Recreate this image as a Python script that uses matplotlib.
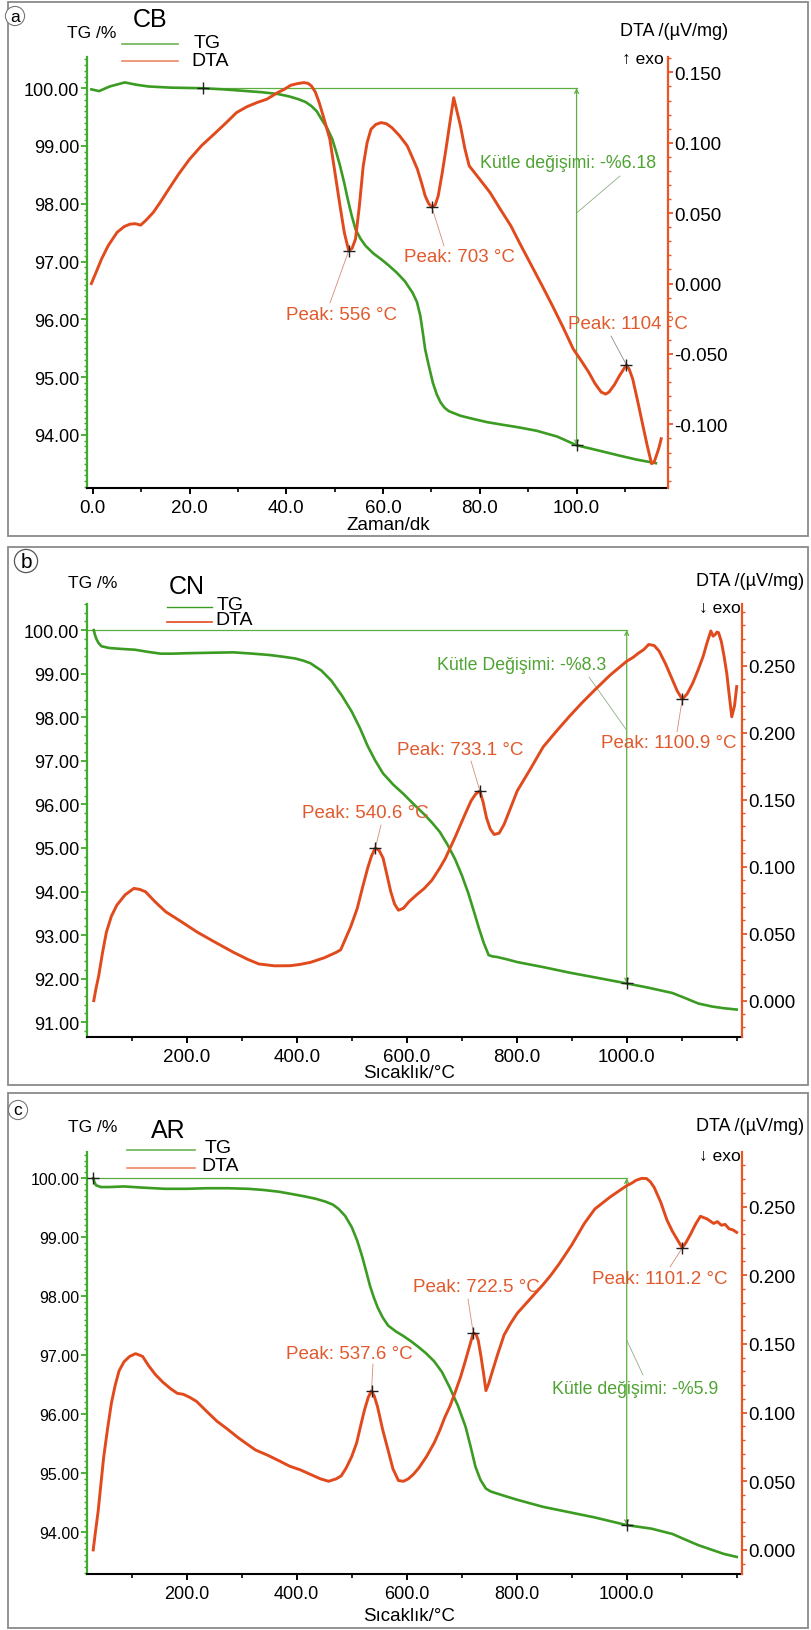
import matplotlib
matplotlib.use('Agg')
import matplotlib.pyplot as plt
from matplotlib.ticker import MultipleLocator, FormatStrFormatter, FixedLocator
from matplotlib.lines import Line2D
from matplotlib.patches import Rectangle

plt.rcParams['font.family'] = ['Liberation Sans', 'DejaVu Sans']
plt.rcParams['axes.unicode_minus'] = False

# ---------------- data: panel a (CB) ----------------
a_tg_t = [-0.3, 1.3, 3.5, 6.6, 9.0, 11.5, 16.0, 22.4, 27.0, 31.8, 35.0, 38.2, 40.5, 42.5, 44.0, 45.2, 46.3,
          47.3, 48.5, 49.5, 50.3, 51.1, 52.0, 52.7, 53.5, 54.3, 55.3, 56.4, 58.0, 59.6, 61.2, 62.8, 64.5,
          66.1, 67.0, 67.7, 68.2, 68.7, 69.5, 70.3, 71.1, 71.9, 72.7, 73.6, 76.0, 78.9, 81.5, 84.3, 88.0,
          91.8, 96.0, 100.0, 104.5, 108.9, 112.5, 116.4]
a_tg_v = [99.98, 99.95, 100.03, 100.10, 100.06, 100.03, 100.01, 100.00, 99.98, 99.95, 99.93, 99.90, 99.86,
          99.81, 99.76, 99.69, 99.60, 99.46, 99.30, 99.12, 98.90, 98.66, 98.35, 98.08, 97.80, 97.56, 97.40,
          97.27, 97.14, 97.04, 96.93, 96.81, 96.66, 96.46, 96.30, 96.06, 95.78, 95.48, 95.18, 94.90, 94.70,
          94.56, 94.47, 94.41, 94.33, 94.27, 94.22, 94.18, 94.13, 94.07, 93.97, 93.82, 93.73, 93.64, 93.57,
          93.51]
a_dta_t = [-0.3, 0.8, 1.8, 3.2, 5.0, 6.5, 7.7, 8.8, 9.9, 11.0, 12.5, 14.0, 15.7, 17.8, 20.0, 22.5, 25.4,
           27.5, 29.7, 31.8, 33.9, 36.0, 38.2, 39.6, 40.9, 42.3, 43.6, 44.5, 45.2, 46.0, 46.8, 47.8, 49.0,
           50.0, 51.1, 52.0, 52.9, 53.6, 54.3, 55.1, 55.9, 56.7, 57.5, 58.5, 59.6, 60.7, 61.8, 63.4, 65.0,
           66.0, 67.1, 68.0, 68.7, 69.4, 70.1, 70.8, 71.4, 72.2, 73.0, 73.8, 74.6, 75.3, 76.0, 76.9, 77.8,
           80.0, 82.1, 84.2, 86.4, 88.5, 90.7, 92.8, 95.0, 97.2, 99.3, 101.0, 102.5, 103.8, 105.1, 106.0,
           106.7, 107.8, 108.9, 109.7, 110.3, 110.9, 111.6, 112.6, 113.7, 114.6, 115.5, 116.0, 116.4, 117.0,
           117.5]
a_dta_v = [0.000, 0.009, 0.0174, 0.027, 0.0363, 0.0405, 0.0422, 0.0425, 0.0415, 0.045, 0.0505, 0.058,
           0.0671, 0.078, 0.0883, 0.098, 0.1072, 0.114, 0.1214, 0.1255, 0.1285, 0.131, 0.1356, 0.138, 0.1408,
           0.1420, 0.1427, 0.1422, 0.1403, 0.136, 0.1285, 0.117, 0.1025, 0.080, 0.0552, 0.036, 0.0233, 0.025,
           0.0316, 0.055, 0.0836, 0.100, 0.1096, 0.1130, 0.1143, 0.1135, 0.1108, 0.1050, 0.0978, 0.090,
           0.0812, 0.071, 0.0623, 0.057, 0.0541, 0.056, 0.0623, 0.078, 0.0954, 0.114, 0.1320, 0.122, 0.1120,
           0.096, 0.0836, 0.074, 0.0647, 0.053, 0.0411, 0.027, 0.0127, -0.001, -0.0157, -0.031, -0.0464,
           -0.055, -0.0629, -0.071, -0.0771, -0.0785, -0.0771, -0.072, -0.0653, -0.061, -0.0577, -0.061,
           -0.0677, -0.083, -0.1007, -0.115, -0.1279, -0.127, -0.1232, -0.117, -0.1102]
a_peak_t = [52.9, 70.1, 110.3]
a_peak_v = [0.0233, 0.0541, -0.0577]
a_peak_txt = ['Peak: 556 °C', 'Peak: 703 °C', 'Peak: 1104 °C']
a_mass_t = [22.7, 100.0]
a_mass_v = [100.00, 93.82]
a_mass_txt = 'Kütle değişimi: -%6.18'

# ---------------- data: panel b (CN) ----------------
b_tg_t = [31, 33, 36, 40, 45, 52, 59, 80, 106, 130, 153, 175, 200, 240, 285, 320, 350, 375, 397, 412, 425,
          445, 463, 482, 500, 515, 529, 543, 557, 575, 594, 613, 632, 646, 660, 674, 688, 700, 712, 722, 731,
          740, 749, 756, 763, 780, 801, 850, 895, 950, 1000, 1040, 1083, 1105, 1130, 1155, 1177, 1200]
b_tg_v = [100.00, 99.90, 99.79, 99.70, 99.63, 99.61, 99.59, 99.57, 99.55, 99.50, 99.46, 99.46, 99.47, 99.48,
          99.49, 99.46, 99.43, 99.39, 99.35, 99.30, 99.24, 99.07, 98.84, 98.50, 98.13, 97.75, 97.34, 97.00,
          96.71, 96.46, 96.24, 96.00, 95.77, 95.58, 95.37, 95.08, 94.74, 94.38, 93.96, 93.55, 93.17, 92.82,
          92.54, 92.51, 92.50, 92.45, 92.38, 92.26, 92.14, 92.01, 91.89, 91.79, 91.67, 91.56, 91.43, 91.36,
          91.32, 91.29]
b_dta_t = [31, 35, 40, 47, 54, 63, 73, 88, 104, 115, 125, 142, 162, 190, 219, 250, 285, 310, 331, 360, 388,
           405, 425, 450, 472, 480, 486, 498, 510, 520, 529, 536, 543, 550, 557, 564, 571, 578, 585, 594,
           604, 618, 632, 646, 660, 670, 679, 688, 698, 707, 717, 725, 733, 739, 745, 752, 759, 768, 777, 789,
           801, 825, 848, 872, 895, 918, 942, 970, 1000, 1011, 1022, 1031, 1040, 1050, 1059, 1071, 1083, 1092,
           1101, 1110, 1120, 1130, 1139, 1146, 1153, 1157, 1161, 1164, 1167, 1172, 1177, 1182, 1186, 1191,
           1196, 1200]
b_dta_v = [0.000, 0.009, 0.0186, 0.036, 0.0512, 0.063, 0.0713, 0.079, 0.0838, 0.083, 0.0813, 0.074, 0.0663,
           0.059, 0.0512, 0.044, 0.0361, 0.031, 0.0274, 0.026, 0.0261, 0.027, 0.0286, 0.032, 0.0361, 0.038,
           0.0437, 0.055, 0.0688, 0.085, 0.0989, 0.108, 0.1140, 0.112, 0.1064, 0.094, 0.0813, 0.072, 0.0675,
           0.069, 0.0738, 0.079, 0.0838, 0.090, 0.0989, 0.106, 0.1140, 0.122, 0.1315, 0.140, 0.1491, 0.154,
           0.1566, 0.148, 0.1365, 0.128, 0.1240, 0.125, 0.1315, 0.144, 0.1566, 0.173, 0.1893, 0.201, 0.2118,
           0.222, 0.2319, 0.243, 0.2533, 0.256, 0.2595, 0.262, 0.2658, 0.265, 0.2608, 0.251, 0.2395, 0.231,
           0.2249, 0.229, 0.2369, 0.247, 0.2570, 0.267, 0.2759, 0.272, 0.2733, 0.275, 0.2746, 0.268, 0.2570,
           0.244, 0.2294, 0.2118, 0.220, 0.2344]
b_peak_t = [543, 733, 1101]
b_peak_v = [0.1140, 0.1566, 0.2249]
b_peak_txt = ['Peak: 540.6 °C', 'Peak: 733.1 °C', 'Peak: 1100.9 °C']
b_mass_t = [18.7, 1000.0]
b_mass_v = [100.00, 91.89]
b_mass_txt = 'Kütle Değişimi: -%8.3'

# ---------------- data: panel c (AR) ----------------
c_tg_t = [30, 32, 35, 44, 60, 86, 120, 161, 200, 237, 275, 312, 340, 368, 392, 415, 435, 453, 466, 476, 488,
          500, 510, 519, 526, 533, 540, 547, 556, 566, 580, 594, 608, 622, 636, 650, 664, 678, 693, 707, 716,
          725, 734, 744, 753, 763, 780, 801, 848, 895, 942, 1000, 1045, 1083, 1105, 1130, 1155, 1177, 1200]
c_tg_v = [100.00, 99.94, 99.88, 99.85, 99.85, 99.86, 99.84, 99.82, 99.82, 99.83, 99.83, 99.82, 99.80, 99.77,
          99.73, 99.69, 99.65, 99.60, 99.55, 99.48, 99.36, 99.17, 98.94, 98.67, 98.43, 98.18, 97.98, 97.81,
          97.64, 97.50, 97.40, 97.32, 97.23, 97.13, 97.02, 96.89, 96.71, 96.45, 96.14, 95.78, 95.45, 95.10,
          94.88, 94.73, 94.68, 94.65, 94.60, 94.54, 94.42, 94.33, 94.24, 94.11, 94.05, 93.96, 93.87, 93.77,
          93.69, 93.62, 93.57]
c_dta_t = [30, 34, 39, 44, 49, 56, 63, 70, 77, 86, 96, 102, 107, 113, 120, 131, 143, 157, 171, 183, 194, 206,
           218, 236, 255, 274, 293, 310, 325, 347, 368, 387, 406, 425, 443, 458, 472, 481, 490, 500, 509, 516,
           523, 530, 536, 541, 547, 556, 566, 575, 585, 594, 603, 612, 622, 636, 650, 660, 669, 679, 688, 698,
           707, 714, 721, 726, 730, 735, 740, 744, 749, 754, 765, 777, 789, 801, 825, 848, 862, 876, 900, 923,
           942, 970, 1000, 1009, 1017, 1027, 1036, 1043, 1050, 1062, 1073, 1083, 1092, 1101, 1108, 1116,
           1125, 1134, 1146, 1158, 1165, 1172, 1179, 1186, 1193, 1200]
c_dta_v = [0.000, 0.013, 0.0283, 0.048, 0.0675, 0.088, 0.1068, 0.120, 0.1304, 0.137, 0.1408, 0.142, 0.1429,
           0.142, 0.1408, 0.134, 0.1277, 0.122, 0.1173, 0.114, 0.1133, 0.111, 0.1081, 0.101, 0.0937, 0.088,
           0.0819, 0.077, 0.0728, 0.069, 0.0649, 0.061, 0.0584, 0.055, 0.0518, 0.050, 0.0518, 0.054, 0.0597,
           0.068, 0.0780, 0.090, 0.1016, 0.111, 0.1160, 0.112, 0.1042, 0.088, 0.0728, 0.059, 0.0505, 0.050,
           0.0518, 0.055, 0.0597, 0.068, 0.0780, 0.087, 0.0963, 0.105, 0.1147, 0.126, 0.1382, 0.148, 0.1579,
           0.157, 0.1526, 0.141, 0.1277, 0.1160, 0.121, 0.1277, 0.142, 0.1565, 0.165, 0.1723, 0.183, 0.1932,
           0.200, 0.2076, 0.222, 0.2377, 0.2482, 0.257, 0.2652, 0.267, 0.2691, 0.2705, 0.2704, 0.268, 0.2639,
           0.253, 0.2403, 0.232, 0.2259, 0.2199, 0.224, 0.2298, 0.237, 0.2429, 0.241, 0.2377, 0.239, 0.2364,
           0.237, 0.2338, 0.233, 0.2312]
c_peak_t = [536, 721, 1101]
c_peak_v = [0.1160, 0.1579, 0.2199]
c_peak_txt = ['Peak: 537.6 °C', 'Peak: 722.5 °C', 'Peak: 1101.2 °C']
c_mass_t = [30.0, 1000.0]
c_mass_v = [100.00, 94.11]
c_mass_txt = 'Kütle değişimi: -%5.9'

# ---------------- styling ----------------
W, H = 811, 1631
TG_C = '#3b9b22'
SPG = '#3fac2b'
DTA_C = '#e14a1c'
SPR = '#ea5525'
ANN_G = '#5cae40'
PEAK_C = '#e05a2e'
MASS_C = '#4ea332'

fig = plt.figure(figsize=(W / 100, H / 100), dpi=100)


def fpx(x, y):
    return x / W, 1 - y / H


def box(x0, y0, x1, y1):
    fig.add_artist(Rectangle((x0 / W, 1 - y1 / H), (x1 - x0) / W, (y1 - y0) / H,
                             transform=fig.transFigure, fill=False, ec='#8a8a8a', lw=1.3))


def ftext(x, y, s, **kw):
    kw.setdefault('ha', 'center')
    kw.setdefault('va', 'center')
    fig.text(x / W, 1 - y / H, s, **kw)


def fline(x0, x1, y, color, lw=1.2):
    fig.add_artist(Line2D([x0 / W, x1 / W], [1 - y / H, 1 - y / H], transform=fig.transFigure,
                          color=color, lw=lw))


def panel(rect, xlim, ylt, yld, tg_t, tg_v, dta_t, dta_v, tg_ticks, dta_ticks, x_ticks, x_minor,
          tg_minor, left_fs, x_fs, peak_t, peak_v, mass_t, mass_v, mass_start_marker):
    l, r, t, b = rect
    ax = fig.add_axes([l / W, 1 - b / H, (r - l) / W, (b - t) / H])
    ax2 = ax.twinx()
    ax.set_xlim(*xlim)
    ax.set_ylim(*ylt)
    ax2.set_ylim(*yld)
    ax.plot(tg_t, tg_v, color=TG_C, lw=1.9, zorder=3)
    ax2.plot(dta_t, dta_v, color=DTA_C, lw=2.1, zorder=3)
    for s in ['top', 'right']:
        ax.spines[s].set_visible(False)
    for s in ['top', 'left', 'bottom']:
        ax2.spines[s].set_visible(False)
    ax.spines['left'].set_color(SPG)
    ax.spines['left'].set_linewidth(1.6)
    ax.spines['bottom'].set_color('black')
    ax.spines['bottom'].set_linewidth(1.5)
    ax2.spines['right'].set_color(SPR)
    ax2.spines['right'].set_linewidth(1.6)
    ax.set_yticks(tg_ticks)
    ax.yaxis.set_major_formatter(FormatStrFormatter('%.2f'))
    ax.yaxis.set_minor_locator(MultipleLocator(tg_minor))
    ax2.set_yticks(dta_ticks)
    ax2.yaxis.set_major_formatter(FormatStrFormatter('%.3f'))
    ax2.yaxis.set_minor_locator(MultipleLocator(0.01))
    ax.set_xticks(x_ticks)
    ax.xaxis.set_major_formatter(FormatStrFormatter('%.1f'))
    ax.xaxis.set_minor_locator(MultipleLocator(x_minor))
    ax.tick_params(axis='y', which='major', colors=SPG, labelcolor='black', length=4, width=1.3,
                   labelsize=left_fs, pad=1.5)
    ax.tick_params(axis='y', which='minor', colors=SPG, length=2.2, width=1.0)
    ax2.tick_params(axis='y', which='major', colors=SPR, labelcolor='black', length=3.5, width=1.3,
                    labelsize=13.5, pad=1)
    ax2.tick_params(axis='y', which='minor', colors=SPR, length=2.2, width=1.0)
    ax.tick_params(axis='x', which='major', colors='black', length=4, width=1.4, labelsize=x_fs, pad=4)
    ax.tick_params(axis='x', which='minor', colors='black', length=3, width=1.2)
    # mass change construction
    ax.plot([mass_t[0], mass_t[1]], [mass_v[0], mass_v[0]], color=ANN_G, lw=0.9, zorder=2)
    ax.annotate('', xy=(mass_t[1], mass_v[0]), xytext=(mass_t[1], mass_v[1]),
                arrowprops=dict(arrowstyle='<->', color=ANN_G, lw=0.9, shrinkA=0, shrinkB=0,
                                mutation_scale=7), zorder=2)
    ax.plot([mass_t[1]], [mass_v[1]], marker='+', color='#202020', ms=8, mew=1.0, zorder=5)
    if mass_start_marker:
        ax.plot([mass_t[0]], [mass_v[0]], marker='+', color='#202020', ms=8, mew=1.0, zorder=5)
    ax2.plot(peak_t, peak_v, ls='none', marker='+', color='#202020', ms=8, mew=1.0, zorder=5)
    return ax, ax2


def leader(ax, xy, px, py, color):
    ax.annotate('', xy=xy, xycoords='data', xytext=(px, H - py), textcoords='figure pixels',
                arrowprops=dict(arrowstyle='-', color=color, lw=0.6, shrinkA=0, shrinkB=0))


# ---------------- panel a ----------------
box(8, 3, 808, 537)
axa, axa2 = panel((87, 668, 58, 489), (-1.2, 118.9), (93.08, 100.54), (-0.1452, 0.1609),
                  a_tg_t, a_tg_v, a_dta_t, a_dta_v, [94, 95, 96, 97, 98, 99, 100],
                  [-0.10, -0.05, 0.0, 0.05, 0.10, 0.15], [0, 20, 40, 60, 80, 100], 10, 0.1, 13, 13.5,
                  a_peak_t, a_peak_v, a_mass_t, a_mass_v, True)
ftext(15, 17, 'a', fontsize=12.5, bbox=dict(boxstyle='circle,pad=0.12', fc='white', ec='#777777', lw=0.8))
ftext(92, 33, 'TG /%', fontsize=12.5)
ftext(150, 20, 'CB', fontsize=18)
ftext(674, 32, 'DTA /(µV/mg)', fontsize=13)
ftext(664, 59, '↑ exo', fontsize=12.5, ha='right')
fline(122, 178, 45, '#6cb454')
fline(122, 178, 62, '#ee8a66')
ftext(207, 43, 'TG', fontsize=14)
ftext(210, 62, 'DTA', fontsize=14)
ftext(568, 163, a_mass_txt, fontsize=12.8, color=MASS_C)
leader(axa, (a_mass_t[1], 97.84), 620, 177, '#8fae84')
ftext(342, 315, a_peak_txt[0], fontsize=13.5, color=PEAK_C)
ftext(459, 257, a_peak_txt[1], fontsize=13.5, color=PEAK_C)
ftext(628, 325, a_peak_txt[2], fontsize=13.5, color=PEAK_C)
leader(axa2, (a_peak_t[0], a_peak_v[0]), 330, 304, '#d88a70')
leader(axa2, (a_peak_t[1], a_peak_v[1]), 444, 247, '#d88a70')
leader(axa2, (a_peak_t[2], a_peak_v[2]), 611, 337, '#8a8a8a')
ftext(388, 525, 'Zaman/dk', fontsize=13.5)

# ---------------- panel b ----------------
box(8, 548, 808, 1086)
axb, axb2 = panel((87, 742, 605, 1038), (18.7, 1209.6), (90.66, 100.60), (-0.0271, 0.296),
                  b_tg_t, b_tg_v, b_dta_t, b_dta_v, [91, 92, 93, 94, 95, 96, 97, 98, 99, 100],
                  [0.0, 0.05, 0.10, 0.15, 0.20, 0.25], [200, 400, 600, 800, 1000], 100, 0.2, 13, 13.5,
                  b_peak_t, b_peak_v, b_mass_t, b_mass_v, False)
ftext(26, 562, 'b', fontsize=15, bbox=dict(boxstyle='circle,pad=0.1', fc='white', ec='#555555', lw=0.9))
ftext(93, 583, 'TG /%', fontsize=12.5)
ftext(187, 587, 'CN', fontsize=18)
ftext(750, 582, 'DTA /(µV/mg)', fontsize=13)
ftext(741, 608, '↓ exo', fontsize=12.5, ha='right')
fline(167, 212, 608, TG_C, 1.0)
fline(167, 212, 623, DTA_C, 1.2)
ftext(230, 605, 'TG', fontsize=14)
ftext(234, 621, 'DTA', fontsize=14)
ftext(522, 666, b_mass_txt, fontsize=12.8, color=MASS_C)
leader(axb, (b_mass_t[1], 97.7), 589, 678, '#8fae84')
ftext(365, 814, b_peak_txt[0], fontsize=13.5, color=PEAK_C)
ftext(460, 751, b_peak_txt[1], fontsize=13.5, color=PEAK_C)
ftext(669, 743, b_peak_txt[2], fontsize=13.5, color=PEAK_C)
leader(axb2, (b_peak_t[0], b_peak_v[0]), 381, 826, '#d88a70')
leader(axb2, (b_peak_t[1], b_peak_v[1]), 471, 762, '#d88a70')
leader(axb2, (b_peak_t[2], b_peak_v[2]), 677, 733, '#d88a70')
ftext(409, 1073, 'Sıcaklık/°C', fontsize=13.5)

# ---------------- panel c ----------------
box(8, 1094, 808, 1629)
axc, axc2 = panel((87, 742, 1153, 1575), (18.7, 1209.6), (93.28, 100.445), (-0.0175, 0.2897),
                  c_tg_t, c_tg_v, c_dta_t, c_dta_v, [94, 95, 96, 97, 98, 99, 100],
                  [0.0, 0.05, 0.10, 0.15, 0.20, 0.25], [200, 400, 600, 800, 1000], 100, 0.1, 11.5, 13,
                  c_peak_t, c_peak_v, c_mass_t, c_mass_v, True)
ftext(18, 1111, 'c', fontsize=12.5, bbox=dict(boxstyle='circle,pad=0.12', fc='white', ec='#777777', lw=0.8))
ftext(93, 1128, 'TG /%', fontsize=12.5)
ftext(168, 1131, 'AR', fontsize=18)
ftext(750, 1127, 'DTA /(µV/mg)', fontsize=13)
ftext(741, 1156, '↓ exo', fontsize=12.5, ha='right')
fline(127, 195, 1151, '#6cb454')
fline(127, 195, 1169, '#ee8a66')
ftext(218, 1149, 'TG', fontsize=14)
ftext(220, 1167, 'DTA', fontsize=14)
ftext(635, 1390, c_mass_txt, fontsize=12.8, color=MASS_C)
leader(axc, (c_mass_t[1], 97.25), 643, 1376, '#8fae84')
ftext(349, 1355, c_peak_txt[0], fontsize=13.5, color=PEAK_C)
ftext(476, 1288, c_peak_txt[1], fontsize=13.5, color=PEAK_C)
ftext(660, 1280, c_peak_txt[2], fontsize=13.5, color=PEAK_C)
leader(axc2, (c_peak_t[0], c_peak_v[0]), 373, 1365, '#d88a70')
leader(axc2, (c_peak_t[1], c_peak_v[1]), 468, 1300, '#d88a70')
leader(axc2, (c_peak_t[2], c_peak_v[2]), 670, 1268, '#d88a70')
ftext(409, 1617, 'Sıcaklık/°C', fontsize=13.5)

fig.savefig('out.png', dpi=100)
